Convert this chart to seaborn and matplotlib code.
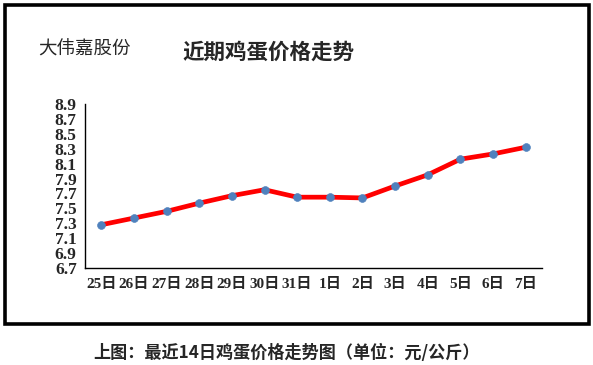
import numpy as np
import pandas as pd
import seaborn as sns
from matplotlib import pyplot as plt
from matplotlib.patches import Rectangle

# 近14日鸡蛋价格 (元/公斤)
days = ["25日", "26日", "27日", "28日", "29日", "30日", "31日",
        "1日", "2日", "3日", "4日", "5日", "6日", "7日"]
prices = [7.28, 7.37, 7.46, 7.57, 7.67, 7.75, 7.65,
          7.65, 7.64, 7.80, 7.95, 8.16, 8.23, 8.32]
y_ticks = [6.7, 6.9, 7.1, 7.3, 7.5, 7.7, 7.9, 8.1, 8.3, 8.5, 8.7, 8.9]

data = pd.DataFrame({"day": days, "price": prices})
data["pos"] = np.arange(len(data))

sns.set_style("white")
plt.rcParams["font.family"] = ["Noto Sans CJK SC", "DejaVu Sans"]
tick_font = ["Liberation Serif", "Noto Sans CJK SC"]

fig = plt.figure(figsize=(5.93, 3.65), dpi=100)
ax = fig.add_axes([85 / 593, 1 - 268 / 365, (542 - 85) / 593, (268 - 104) / 365])

sns.lineplot(x="pos", y="price", data=data, ax=ax, color="#ff0000",
             linewidth=3.4, sort=False)
sns.scatterplot(x="pos", y="price", data=data, ax=ax, color="#4f81bd",
                s=32, edgecolor="#4f81bd", zorder=3)

ax.set_xlim(-0.5, len(days) - 0.5)
ax.set_ylim(y_ticks[0], y_ticks[-1])
ax.set_yticks(y_ticks)
ax.set_yticklabels([f"{v:.1f}" for v in y_ticks], family=tick_font,
                   fontweight="bold", fontsize=12.5)
ax.set_xticks(data["pos"])
ax.set_xticklabels(days, family=tick_font, fontweight="bold", fontsize=11)
ax.set_xticks(np.arange(len(days) + 1) - 0.5, minor=True)
ax.tick_params(axis="x", which="major", length=0, pad=7)
ax.tick_params(axis="x", which="minor", length=4, width=1, direction="out", color="black")
ax.tick_params(axis="y", length=4, width=1, direction="out", color="black", pad=2)
ax.set_xlabel("")
ax.set_ylabel("")

ax.spines["top"].set_visible(False)
ax.spines["right"].set_visible(False)
ax.spines["left"].set_color("black")
ax.spines["bottom"].set_color("black")
ax.spines["left"].set_linewidth(1)
ax.spines["bottom"].set_linewidth(1)

# 外框
fig.patches.append(Rectangle((4.5 / 593, 1 - 323.5 / 365), 584 / 593, 319 / 365,
                             transform=fig.transFigure, fill=False,
                             edgecolor="black", linewidth=2.6))

fig.text(84 / 593, 1 - 50 / 365, "大伟嘉股份", fontsize=13.3, ha="center", va="center")
fig.text(268 / 593, 1 - 52 / 365, "近期鸡蛋价格走势", fontsize=15.5,
         fontweight="bold", ha="center", va="center")
fig.text(286 / 593, 1 - 353 / 365, "上图：最近14日鸡蛋价格走势图（单位：元/公斤）",
         fontsize=12.3, fontweight="bold", ha="center", va="center")

fig.savefig("out.png", dpi=100)
